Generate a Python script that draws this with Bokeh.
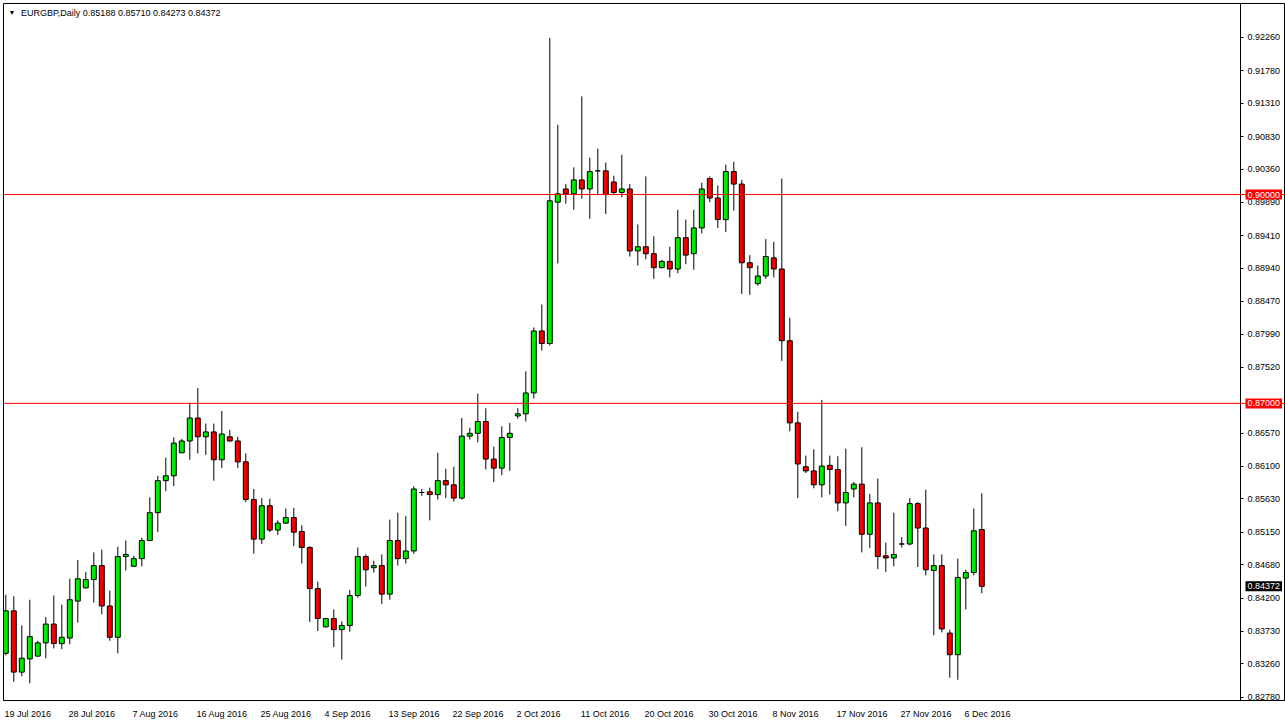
from bokeh.plotting import figure
from bokeh.models import Range1d, FixedTicker, NumeralTickFormatter, Label, Span, ColumnDataSource
from bokeh.embed import file_html
from bokeh.resources import INLINE

symbol = "EURGBP,Daily"

opens = [0.8341, 0.8402, 0.8314, 0.8333, 0.8337, 0.8356, 0.8383, 0.8355, 0.8363, 0.8416,
         0.8435, 0.8447, 0.8467, 0.8409, 0.8364, 0.8480, 0.8466, 0.8477, 0.8503, 0.8543,
         0.8589, 0.8596, 0.8629, 0.8646, 0.8679, 0.8652, 0.8659, 0.8619, 0.8652, 0.8646,
         0.8616, 0.8562, 0.8505, 0.8553, 0.8518, 0.8528, 0.8536, 0.8516, 0.8493, 0.8434,
         0.8379, 0.8391, 0.8375, 0.8381, 0.8424, 0.8480, 0.8464, 0.8467, 0.8426, 0.8503,
         0.8477, 0.8488, 0.8572, 0.8573, 0.8569, 0.8589, 0.8583, 0.8564, 0.8653, 0.8657,
         0.8674, 0.8620, 0.8607, 0.8651, 0.8682, 0.8685, 0.8715, 0.8804, 0.8786, 0.8989,
         0.9008, 0.9001, 0.9021, 0.9008, 0.9034, 0.9034, 0.9018, 0.9003, 0.9008, 0.8919,
         0.8925, 0.8915, 0.8895, 0.8904, 0.8893, 0.8938, 0.8915, 0.8952, 0.9023, 0.8995,
         0.8964, 0.9033, 0.9015, 0.8902, 0.8872, 0.8883, 0.8909, 0.8893, 0.8790, 0.8672,
         0.8609, 0.8603, 0.8583, 0.8611, 0.8605, 0.8557, 0.8577, 0.8584, 0.8512, 0.8557,
         0.8481, 0.8478, 0.8498, 0.8498, 0.8556, 0.8521, 0.8460, 0.8467, 0.8370, 0.8339,
         0.8449, 0.8457, 0.85188]
highs = [0.8425, 0.8423, 0.8381, 0.8418, 0.8359, 0.8393, 0.8424, 0.8411, 0.8448, 0.8475,
         0.8458, 0.8486, 0.8490, 0.8431, 0.8494, 0.8503, 0.8481, 0.8507, 0.8565, 0.8596,
         0.8622, 0.8651, 0.8649, 0.8701, 0.8722, 0.8671, 0.8671, 0.8689, 0.8662, 0.8652,
         0.8628, 0.8577, 0.8564, 0.8563, 0.8532, 0.8549, 0.8550, 0.8525, 0.8495, 0.8444,
         0.8392, 0.8404, 0.8387, 0.8432, 0.8493, 0.8483, 0.8474, 0.8483, 0.8533, 0.8543,
         0.8538, 0.8581, 0.8577, 0.8579, 0.8629, 0.8606, 0.8609, 0.8679, 0.8665, 0.8714,
         0.8693, 0.8638, 0.8667, 0.8672, 0.8693, 0.8746, 0.8809, 0.8842, 0.9225, 0.9100,
         0.9015, 0.9039, 0.9141, 0.9053, 0.9066, 0.9046, 0.9027, 0.9057, 0.9015, 0.8957,
         0.9026, 0.8940, 0.8906, 0.8925, 0.8978, 0.8964, 0.8978, 0.9017, 0.9026, 0.9013,
         0.9043, 0.9047, 0.9021, 0.8913, 0.8898, 0.8936, 0.8932, 0.9023, 0.8823, 0.8688,
         0.8625, 0.8634, 0.8705, 0.8625, 0.8624, 0.8635, 0.8587, 0.8637, 0.8570, 0.8592,
         0.8500, 0.8543, 0.8508, 0.8564, 0.8558, 0.8576, 0.8483, 0.8483, 0.8375, 0.8477,
         0.8461, 0.8549, 0.85710]
lows = [0.8338, 0.8300, 0.8308, 0.8298, 0.8336, 0.8334, 0.8348, 0.8347, 0.8354, 0.8385,
        0.8434, 0.8414, 0.8397, 0.8359, 0.8341, 0.8460, 0.8465, 0.8466, 0.8502, 0.8515,
        0.8574, 0.8581, 0.8629, 0.8619, 0.8628, 0.8626, 0.8589, 0.8607, 0.8645, 0.8607,
        0.8558, 0.8484, 0.8498, 0.8515, 0.8511, 0.8527, 0.8495, 0.8470, 0.8386, 0.8373,
        0.8378, 0.8350, 0.8332, 0.8372, 0.8421, 0.8437, 0.8457, 0.8412, 0.8418, 0.8467,
        0.8470, 0.8484, 0.8567, 0.8532, 0.8562, 0.8564, 0.8559, 0.8562, 0.8648, 0.8644,
        0.8605, 0.8587, 0.8597, 0.8603, 0.8678, 0.8674, 0.8707, 0.8776, 0.8783, 0.8901,
        0.8987, 0.8978, 0.8994, 0.8965, 0.8999, 0.8972, 0.9001, 0.8996, 0.8911, 0.8898,
        0.8907, 0.8879, 0.8894, 0.8881, 0.8887, 0.8900, 0.8892, 0.8944, 0.8989, 0.8952,
        0.8946, 0.8977, 0.8857, 0.8856, 0.8869, 0.8879, 0.8881, 0.8761, 0.8660, 0.8564,
        0.8600, 0.8578, 0.8565, 0.8569, 0.8545, 0.8524, 0.8565, 0.8486, 0.8492, 0.8462,
        0.8458, 0.8466, 0.8493, 0.8496, 0.8465, 0.8453, 0.8367, 0.8371, 0.8306, 0.8303,
        0.8404, 0.8453, 0.84273]
closes = [0.8402, 0.8314, 0.8334, 0.8365, 0.8356, 0.8383, 0.8355, 0.8364, 0.8418, 0.8448,
          0.8447, 0.8467, 0.8409, 0.8364, 0.8480, 0.8483, 0.8477, 0.8503, 0.8543, 0.8589,
          0.8596, 0.8643, 0.8646, 0.8679, 0.8652, 0.8659, 0.8619, 0.8656, 0.8646, 0.8616,
          0.8562, 0.8505, 0.8553, 0.8518, 0.8528, 0.8536, 0.8515, 0.8493, 0.8434, 0.8391,
          0.8391, 0.8375, 0.8381, 0.8424, 0.8480, 0.8461, 0.8467, 0.8426, 0.8503, 0.8477,
          0.8488, 0.8577, 0.8572, 0.8569, 0.8589, 0.8583, 0.8564, 0.8653, 0.8657, 0.8674,
          0.8620, 0.8607, 0.8651, 0.8657, 0.8685, 0.8715, 0.8804, 0.8786, 0.8991, 0.9001,
          0.9001, 0.9021, 0.9008, 0.9033, 0.9034, 0.9000, 0.9003, 0.9008, 0.8919, 0.8925,
          0.8915, 0.8895, 0.8904, 0.8893, 0.8938, 0.8913, 0.8952, 0.9008, 0.8995, 0.8964,
          0.9033, 0.9015, 0.8902, 0.8895, 0.8883, 0.8911, 0.8893, 0.8790, 0.8672, 0.8613,
          0.8603, 0.8583, 0.8610, 0.8605, 0.8557, 0.8572, 0.8584, 0.8512, 0.8557, 0.8480,
          0.8478, 0.8483, 0.8498, 0.8556, 0.8521, 0.8461, 0.8467, 0.8376, 0.8339, 0.8450,
          0.8457, 0.8517, 0.84372]

date_tick_bars = [0, 8, 16, 24, 32, 40, 48, 56, 64, 72, 80, 88, 96, 104, 112, 120]
date_tick_labels = ["19 Jul 2016", "28 Jul 2016", "7 Aug 2016", "16 Aug 2016", "25 Aug 2016",
                    "4 Sep 2016", "13 Sep 2016", "22 Sep 2016", "2 Oct 2016", "11 Oct 2016",
                    "20 Oct 2016", "30 Oct 2016", "8 Nov 2016", "17 Nov 2016", "27 Nov 2016",
                    "6 Dec 2016"]
price_ticks = [0.92260, 0.91780, 0.91310, 0.90830, 0.90360, 0.89890, 0.89410, 0.88940,
               0.88470, 0.87990, 0.87520, 0.86570, 0.86100, 0.85630, 0.85150, 0.84680,
               0.84200, 0.83730, 0.83260, 0.82780]
level_lines = [0.90000, 0.87000]

FONT = "Liberation Sans"
FS = 9
BULL = "#00e800"
BEAR = "#f00000"

# layout (pixels)
W, H = 1285, 723
BAR_PX = 8.0
BAR0_PX = 5.3
FRAME_L, FRAME_T, FRAME_B = 3, 3, 700
AXIS_PX = 1240
PX_PER_PRICE = 1.0 / 0.00014364
PRICE_AT_0 = 0.92787


def bar_at(px):
    return (px - BAR0_PX) / BAR_PX


def price_at(py):
    return PRICE_AT_0 - py / PX_PER_PRICE


# approximate Arial/Liberation advance widths, used to left-align date labels
ADV = {"0": 556, "1": 556, "2": 556, "3": 556, "4": 556, "5": 556, "6": 556, "7": 556,
       "8": 556, "9": 556, " ": 278, "J": 500, "u": 556, "l": 222, "A": 667, "g": 556,
       "S": 667, "e": 556, "p": 556, "O": 778, "c": 500, "t": 278, "N": 722, "o": 556,
       "v": 500, "D": 722}


def text_w(s):
    return sum(ADV.get(ch, 556) for ch in s) * FS / 1000.0


idx = list(range(len(opens)))
tops = [max(o, c) for o, c in zip(opens, closes)]
bots = [min(o, c) for o, c in zip(opens, closes)]
cols = [BULL if c >= o else BEAR for o, c in zip(opens, closes)]
src = ColumnDataSource(dict(x=idx, o=opens, h=highs, l=lows, c=closes, top=tops, bot=bots, col=cols))

p = figure(width=W, height=H, output_backend="svg", toolbar_location=None,
           x_range=Range1d(bar_at(FRAME_L), bar_at(W)),
           y_range=Range1d(price_at(FRAME_B), price_at(FRAME_T)),
           y_axis_location="right", title=None,
           min_border_left=FRAME_L, min_border_top=FRAME_T, min_border_right=0,
           min_border_bottom=H - FRAME_B)
p.background_fill_color = "white"
p.border_fill_color = "white"
p.outline_line_color = "black"
p.outline_line_width = 1
p.xgrid.visible = False
p.ygrid.visible = False

for lv in level_lines:
    p.add_layout(Span(location=lv, dimension="width", line_color="#ff0000", line_width=1))

p.segment(x0="x", y0="h", x1="x", y1="l", source=src, line_color="black", line_width=1)
p.vbar(x="x", top="top", bottom="bot", width=0.62, source=src, fill_color="col",
       line_color="black", line_width=1)

# price axis, drawn at the chart's right edge
ya = p.yaxis[0]
ya.fixed_location = bar_at(AXIS_PX)
ya.ticker = FixedTicker(ticks=price_ticks)
ya.formatter = NumeralTickFormatter(format="0.00000")
ya.major_tick_out = 3
ya.major_tick_in = 0
ya.minor_tick_line_color = None
ya.major_label_standoff = 4
ya.major_label_text_font = FONT
ya.major_label_text_font_size = f"{FS}px"
ya.major_label_text_color = "black"
ya.axis_line_color = "black"

# date axis: labels start at their bar, as in MetaTrader
date_ticks = [round(b + (text_w(t) / 2 - 1.3) / BAR_PX, 3) for b, t in zip(date_tick_bars, date_tick_labels)]
xa = p.xaxis[0]
xa.ticker = FixedTicker(ticks=date_ticks)
xa.major_label_overrides = {k: t for k, t in zip(date_ticks, date_tick_labels)}
xa.major_tick_line_color = None
xa.minor_tick_line_color = None
xa.major_label_standoff = 2
xa.major_label_text_font = FONT
xa.major_label_text_font_size = f"{FS}px"
xa.major_label_text_color = "black"
xa.axis_line_color = "black"

# header
p.add_layout(Label(x=bar_at(8), y=price_at(12), text="▼", text_font=FONT, text_font_size="7px",
                   text_baseline="middle", text_align="left", text_color="black"))
p.add_layout(Label(x=bar_at(20.5), y=price_at(12),
                   text=f"{symbol}  {opens[-1]:.5f} {highs[-1]:.5f} {lows[-1]:.5f} {closes[-1]:.5f}",
                   text_font=FONT, text_font_size=f"{FS}px",
                   text_baseline="middle", text_align="left", text_color="black"))

# price tags on the axis
tags = [(level_lines[0], "#ff0000"), (level_lines[1], "#ff0000"), (closes[-1], "black")]
for price, bg in tags:
    p.add_layout(Label(x=bar_at(AXIS_PX + 5), y=price, text=f"{price:.5f}", text_font=FONT,
                       text_font_size=f"{FS}px", text_color="white", text_baseline="middle",
                       text_align="left", background_fill_color=bg, padding=2))

open("out.html", "w").write(file_html(p, INLINE))
